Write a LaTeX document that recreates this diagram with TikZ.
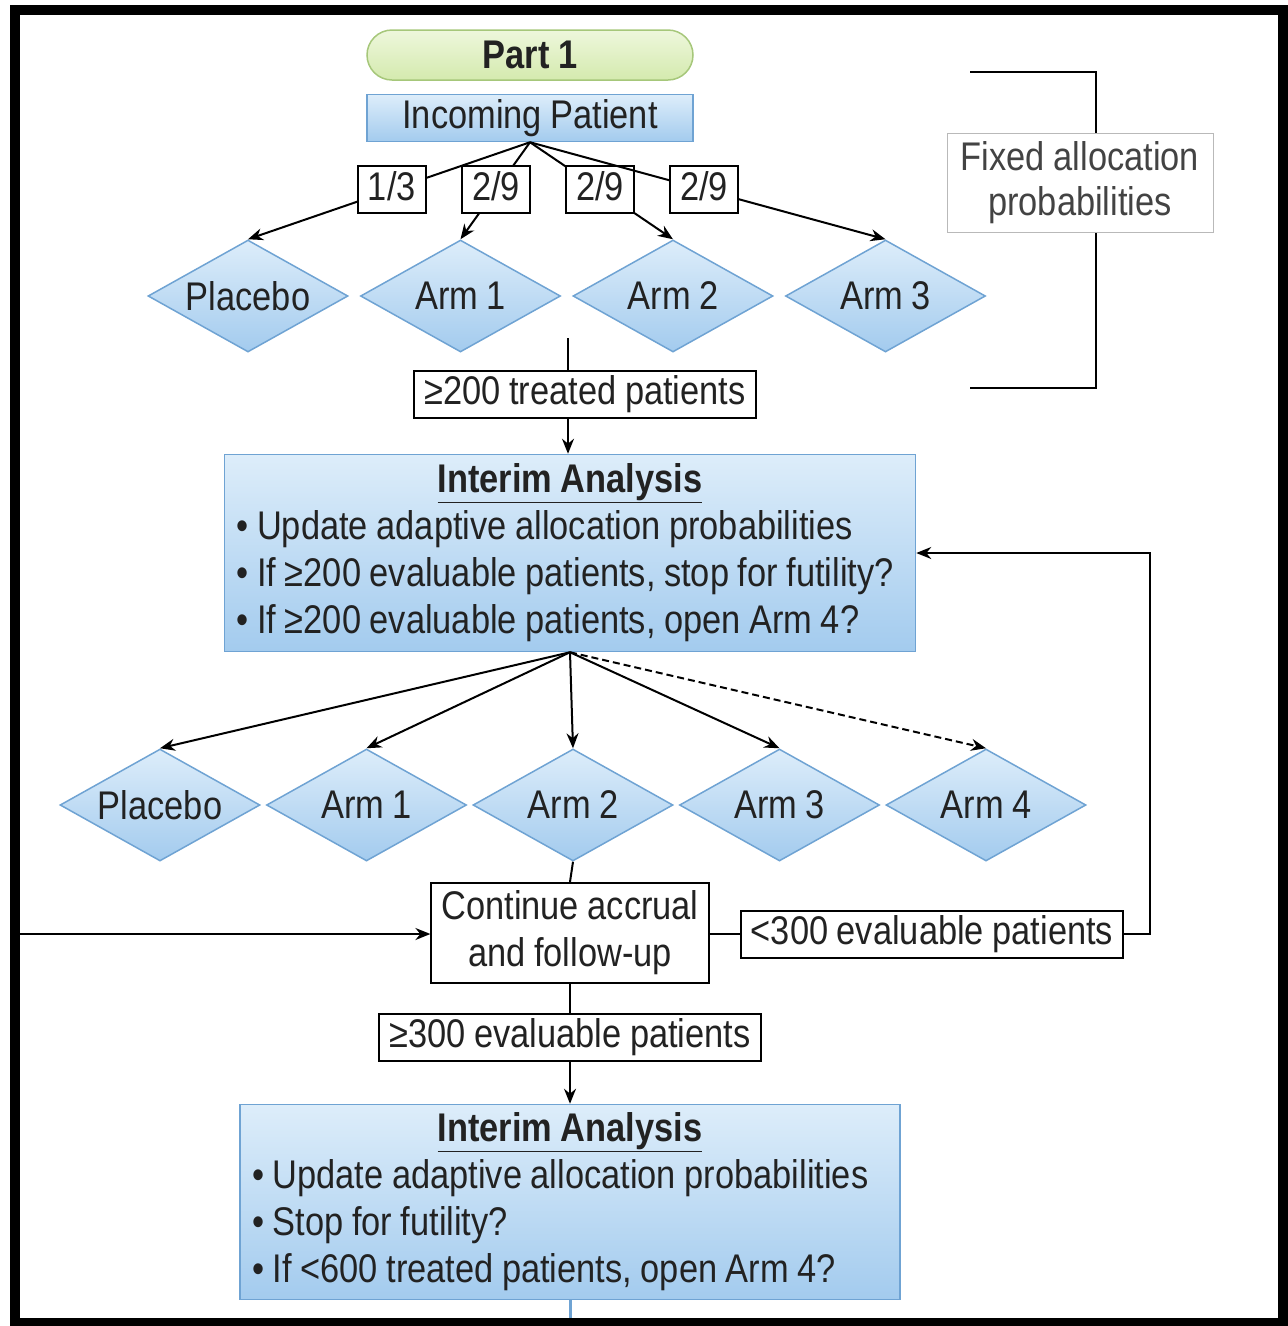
\documentclass[tikz,border=0pt]{standalone}
\usepackage{fontspec}
\setmainfont{Liberation Sans}[FakeStretch=0.86,WordSpace=0.9]
\usepackage{tikz}
\usetikzlibrary{arrows.meta,calc,positioning,shapes.geometric}
\hyphenpenalty=10000

\definecolor{armtop}{HTML}{DDEDFA}
\definecolor{armbot}{HTML}{A3CBEE}
\definecolor{armline}{HTML}{6FA3D3}
\definecolor{parttop}{HTML}{EEF7DC}
\definecolor{partbot}{HTML}{D4EAAE}
\definecolor{partline}{HTML}{A6C77A}
\definecolor{ink}{HTML}{222222}

\tikzset{
  armnode/.style={diamond, aspect=1.8, draw=armline, line width=1.5pt, top color=armtop,
    bottom color=armbot, minimum width=200pt, minimum height=112pt,
    inner sep=0pt, text=ink},
  bluebox/.style={rectangle, draw=armline, line width=1.5pt, top color=armtop,
    bottom color=armbot, text=ink},
  iabox/.style={bluebox, align=flush left, inner xsep=12pt, inner ysep=8pt},
  condbox/.style={rectangle, draw, line width=2pt, fill=white, text=ink,
    inner xsep=10pt, inner ysep=5pt, text height=29pt, text depth=8pt},
  arr/.style={-{Stealth[length=15pt,width=12pt]}, line width=2pt},
  link/.style={line width=2pt}
}

\begin{document}
\begin{tikzpicture}[x=1pt,y=-1pt,font=\fontsize{40}{47}\selectfont]
    \useasboundingbox (0,0) rectangle (1288,1326);
    \draw[line width=10pt] (15,10) rectangle (1283,1323);

    % part 1: fixed allocation
    \node (part) [rectangle, rounded corners=25pt, draw=partline, line width=1.5pt,
      top color=parttop, bottom color=partbot, minimum width=326pt,
      minimum height=50pt, inner sep=0pt, text=ink, font=\fontsize{40}{47}\selectfont\bfseries]
      at (530,55) {Part 1};
    \node (incoming) [bluebox, minimum width=326pt, minimum height=47pt, inner sep=0pt]
      at (530,118) {Incoming Patient};

    \node (placeboA) [armnode] at (248,296) {Placebo};
    \node (armA1)    [armnode, right=11pt of placeboA] {Arm 1};
    \node (armA2)    [armnode, right=11pt of armA1] {Arm 2};
    \node (armA3)    [armnode, right=11pt of armA2] {Arm 3};

    \draw[arr] (incoming.south) -- node[pos=0.49, condbox] {1/3} (placeboA.north);
    \draw[arr] (incoming.south) -- node[pos=0.49, condbox] {2/9} (armA1.north);
    \draw[arr] (incoming.south) -- node[pos=0.49, condbox] {2/9} (armA2.north);
    \draw[arr] (incoming.south) -- node[pos=0.49, condbox] {2/9} (armA3.north);

    \node (fixed) [rectangle, draw=gray!55, line width=1pt, text=ink!85, align=center,
      minimum width=266pt, minimum height=99pt, inner sep=0pt,
      font=\fontsize{40}{45}\selectfont] at (1080,183) {Fixed allocation\\probabilities};
    \coordinate (brtop) at (970,72);
    \coordinate (brbot) at (970,388);
    \coordinate (brx) at (1096,0);
    \draw[link] (brtop) -| (brx |- fixed.north);
    \draw[link] (brbot) -| (brx |- fixed.south);

    \coordinate (join1) at (568,338);
    \node (treat) [condbox] at (585,394) {≥200 treated patients};
    \draw[link] (join1) -- (join1 |- treat.north);

    % first interim analysis
    \node (ia1) [iabox, text width=667pt, minimum height=197pt] at (570,553)
      {\makebox[\linewidth]{\underline{\textbf{Interim Analysis}}}\\
       \textbullet\ Update adaptive allocation probabilities\\
       \textbullet\ If ≥200 evaluable patients, stop for futility?\\
       \textbullet\ If ≥200 evaluable patients, open Arm 4?};
    \draw[arr] (join1 |- treat.south) -- (join1 |- ia1.north);

    \node (placeboB) [armnode] at (160,805) {Placebo};
    \node (armB1)    [armnode, right=5pt of placeboB] {Arm 1};
    \node (armB2)    [armnode, right=5pt of armB1] {Arm 2};
    \node (armB3)    [armnode, right=5pt of armB2] {Arm 3};
    \node (armB4)    [armnode, right=5pt of armB3] {Arm 4};

    \draw[arr] (ia1.south) -- (placeboB.north);
    \draw[arr] (ia1.south) -- (armB1.north);
    \draw[arr] (ia1.south) -- (armB2.north);
    \draw[arr] (ia1.south) -- (armB3.north);
    \draw[arr, dash pattern=on 7pt off 4pt] (ia1.south) -- (armB4.north);

    % accrual loop
    \node (cont) [rectangle, draw, line width=2pt, fill=white, text=ink, align=center,
      inner xsep=10pt, inner ysep=8pt] at (570,933) {Continue accrual\\and follow-up};
    \draw[link] (armB2.south) -- (cont.north);
    \coordinate (leftin) at (20,934);
    \draw[arr] (leftin) -- (leftin -| cont.west);

    \node (lt300) [condbox] at (932,934) {<300 evaluable patients};
    \draw[link] (cont.east |- lt300.west) -- (lt300.west);
    \draw[arr] (lt300.east) -- ++(26,0) |- (ia1.east);

    \node (ge300) [condbox] at (570,1037) {≥300 evaluable patients};
    \draw[link] (cont.south) -- (ge300.north);

    % second interim analysis
    \node (ia2) [iabox, text width=636pt, minimum height=195pt] at (570,1202)
      {\makebox[\linewidth]{\underline{\textbf{Interim Analysis}}}\\
       \textbullet\ Update adaptive allocation probabilities\\
       \textbullet\ Stop for futility?\\
       \textbullet\ If <600 treated patients, open Arm 4?};
    \draw[arr] (ge300.south) -- (ia2.north);
    \coordinate (bottomout) at (570,1318);
    \draw[armline, line width=3pt] (ia2.south) -- (bottomout);
\end{tikzpicture}
\end{document}
